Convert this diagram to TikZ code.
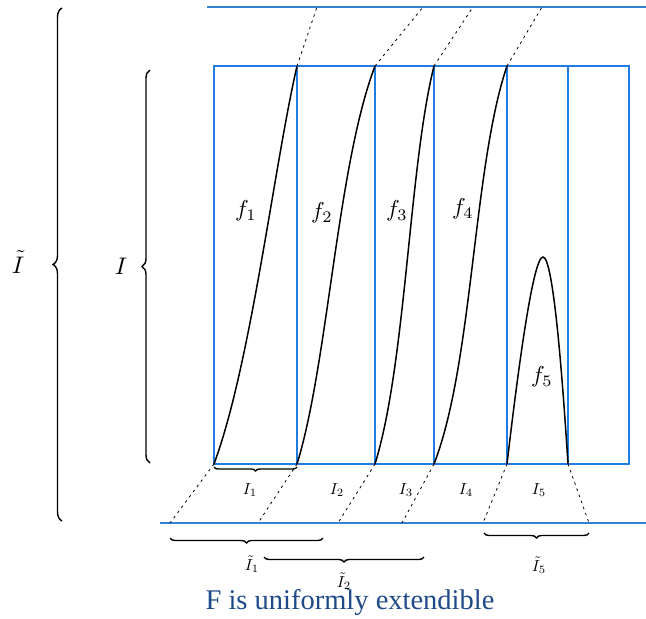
\documentclass[tikz,border=0pt]{standalone}
\usepackage{fontspec}
\newfontfamily\capfont{Liberation Serif}
\usetikzlibrary{decorations.pathreplacing}
\definecolor{boxblue}{RGB}{30,125,225}
\definecolor{linblue}{RGB}{50,130,210}
\definecolor{capblue}{RGB}{30,75,135}
\tikzset{
  boxline/.style={draw=boxblue, line width=2pt},
  hline/.style={draw=linblue, line width=1.1pt},
  curve/.style={draw=black, line width=1.5pt},
  ext/.style={draw=black, line width=0.8pt, dash pattern=on 2.5pt off 4pt},
  brc/.style={draw=black, line width=1.4pt, decorate, decoration={brace, amplitude=#1}},
  brc/.default=6pt,
  hbrc/.style={draw=black, line width=1.4pt, decorate, decoration={brace, mirror, amplitude=#1}},
  hbrc/.default=5pt,
  mlab/.style={inner sep=0pt, scale=2.3},
  slab/.style={inner sep=0pt, scale=1.6},
  blab/.style={inner sep=0pt, scale=2.4},
}
\begin{document}
\begin{tikzpicture}[x=1pt,y=-1pt]
\useasboundingbox (0,0) rectangle (646,619);
% grid points
\foreach \n/\x in {0/214,1/297,2/375,3/434,4/507,5/568,6/629}{
  \coordinate (B\n) at (\x,464);
  \coordinate (T\n) at (\x,66);
}
\coordinate (U1) at (317,7);
\coordinate (U2) at (423,7);
\coordinate (U3) at (473,7);
\coordinate (U4) at (542,7);
\coordinate (L0) at (170,523);
\coordinate (L1) at (258,523);
\coordinate (L2) at (338,523);
\coordinate (L3) at (402,523);
\coordinate (L4) at (483,523);
\coordinate (L5) at (589,523);
\coordinate (TLs) at (207,7);
\coordinate (TLe) at (646,7);
\coordinate (BLs) at (160,523);
\coordinate (BLe) at (646,523);
% horizontal blue lines
\draw[hline] (TLs) -- (TLe);
\draw[hline] (BLs) -- (BLe);
% box
\draw[boxline] (T0) rectangle (B6);
\foreach \n in {1,...,5}{\draw[boxline] (T\n) -- (B\n);}
% dotted extensions
\draw[ext] (T1) -- (U1);
\draw[ext] (T2) -- (U2);
\draw[ext] (T3) -- (U3);
\draw[ext] (T4) -- (U4);
\draw[ext] (B0) -- (L0);
\draw[ext] (B1) -- (L1);
\draw[ext] (B2) -- (L2);
\draw[ext] (B3) -- (L3);
\draw[ext] (B4) -- (L4);
\draw[ext] (B5) -- (L5);
% curves
\draw[curve] (B0) .. controls (251,364) and (274,166) .. (T1);
\draw[curve] (B1) .. controls (328,364) and (337,166) .. (T2);
\draw[curve] (B2) .. controls (406,364) and (409,166) .. (T3);
\draw[curve] (B3) .. controls (473,364) and (473,166) .. (T4);
\coordinate (P5) at (543,257);
\draw[curve] (B4) .. controls (518,370) and (533,257) .. (P5) .. controls (553,257) and (562,370) .. (B5);
% curve labels
\node[mlab] (f1) at (246,211) {$f_1$};
\node[mlab] (f2) at (322,213) {$f_2$};
\node[mlab] (f3) at (397,211) {$f_3$};
\node[mlab] (f4) at (463,209) {$f_4$};
\node[mlab] (f5) at (542,377) {$f_5$};
% small interval labels
\node[slab] (i1) at (250,490) {$I_1$};
\node[slab] (i2) at (337,490) {$I_2$};
\node[slab] (i3) at (406,490) {$I_3$};
\node[slab] (i4) at (466,490) {$I_4$};
\node[slab] (i5) at (539,490) {$I_5$};
% bottom braces
\coordinate (b1s) at (214,467); \coordinate (b1e) at (297,467);
\draw[hbrc=4pt] (b1s) -- (b1e);
\coordinate (c1s) at (170,538); \coordinate (c1e) at (323,538);
\draw[hbrc] (c1s) -- (c1e);
\coordinate (c2s) at (264,557); \coordinate (c2e) at (424,557);
\draw[hbrc] (c2s) -- (c2e);
\coordinate (c5s) at (484,533); \coordinate (c5e) at (589,533);
\draw[hbrc] (c5s) -- (c5e);
\node[slab] (t1) at (252,564) {$\tilde I_1$};
\node[slab] (t2) at (344,581) {$\tilde I_2$};
\node[slab] (t5) at (539,565) {$\tilde I_5$};
% left braces
\coordinate (lb1s) at (62,521); \coordinate (lb1e) at (62,8);
\draw[brc=9pt] (lb1s) -- (lb1e);
\coordinate (lb2s) at (150,463); \coordinate (lb2e) at (150,70);
\draw[brc=8pt] (lb2s) -- (lb2e);
\node[blab] (tI) at (18,262) {$\tilde I$};
\node[blab] (bI) at (121,266) {$I$};
% caption
\node[inner sep=0pt, text=capblue, font=\capfont\fontsize{28.5}{32}\selectfont] (cap) at (350,603) {F is uniformly extendible};
\end{tikzpicture}
\end{document}
